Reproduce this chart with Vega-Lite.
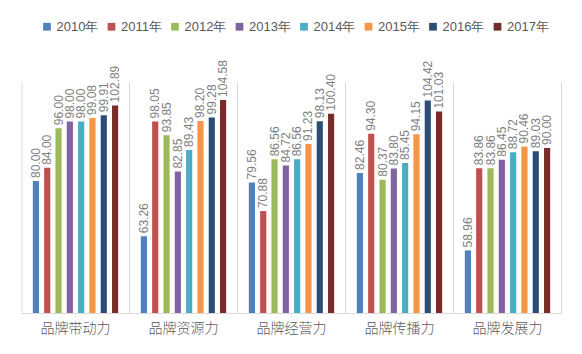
{
  "$schema": "https://vega.github.io/schema/vega-lite/v6.json",
  "autosize": "none",
  "width": 540,
  "height": 231,
  "padding": {"left": 21.5, "top": 82, "right": 20.5, "bottom": 41},
  "background": "white",
  "config": {
    "view": {"stroke": null},
    "font": "Liberation Sans"
  },
  "datasets": {
    "main": [
      {"cat": "品牌带动力", "year": "2010年", "value": 80.00},
      {"cat": "品牌带动力", "year": "2011年", "value": 84.00},
      {"cat": "品牌带动力", "year": "2012年", "value": 96.00},
      {"cat": "品牌带动力", "year": "2013年", "value": 98.00},
      {"cat": "品牌带动力", "year": "2014年", "value": 98.00},
      {"cat": "品牌带动力", "year": "2015年", "value": 99.08},
      {"cat": "品牌带动力", "year": "2016年", "value": 99.91},
      {"cat": "品牌带动力", "year": "2017年", "value": 102.89},
      {"cat": "品牌资源力", "year": "2010年", "value": 63.26},
      {"cat": "品牌资源力", "year": "2011年", "value": 98.05},
      {"cat": "品牌资源力", "year": "2012年", "value": 93.85},
      {"cat": "品牌资源力", "year": "2013年", "value": 82.85},
      {"cat": "品牌资源力", "year": "2014年", "value": 89.43},
      {"cat": "品牌资源力", "year": "2015年", "value": 98.20},
      {"cat": "品牌资源力", "year": "2016年", "value": 99.28},
      {"cat": "品牌资源力", "year": "2017年", "value": 104.58},
      {"cat": "品牌经营力", "year": "2010年", "value": 79.56},
      {"cat": "品牌经营力", "year": "2011年", "value": 70.88},
      {"cat": "品牌经营力", "year": "2012年", "value": 86.56},
      {"cat": "品牌经营力", "year": "2013年", "value": 84.72},
      {"cat": "品牌经营力", "year": "2014年", "value": 86.56},
      {"cat": "品牌经营力", "year": "2015年", "value": 91.23},
      {"cat": "品牌经营力", "year": "2016年", "value": 98.13},
      {"cat": "品牌经营力", "year": "2017年", "value": 100.40},
      {"cat": "品牌传播力", "year": "2010年", "value": 82.46},
      {"cat": "品牌传播力", "year": "2011年", "value": 94.30},
      {"cat": "品牌传播力", "year": "2012年", "value": 80.37},
      {"cat": "品牌传播力", "year": "2013年", "value": 83.80},
      {"cat": "品牌传播力", "year": "2014年", "value": 85.45},
      {"cat": "品牌传播力", "year": "2015年", "value": 94.15},
      {"cat": "品牌传播力", "year": "2016年", "value": 104.42},
      {"cat": "品牌传播力", "year": "2017年", "value": 101.03},
      {"cat": "品牌发展力", "year": "2010年", "value": 58.96},
      {"cat": "品牌发展力", "year": "2011年", "value": 83.86},
      {"cat": "品牌发展力", "year": "2012年", "value": 83.86},
      {"cat": "品牌发展力", "year": "2013年", "value": 86.45},
      {"cat": "品牌发展力", "year": "2014年", "value": 88.72},
      {"cat": "品牌发展力", "year": "2015年", "value": 90.46},
      {"cat": "品牌发展力", "year": "2016年", "value": 89.03},
      {"cat": "品牌发展力", "year": "2017年", "value": 90.00}
    ],
    "cats": [
      {"cat": "品牌带动力"},
      {"cat": "品牌资源力"},
      {"cat": "品牌经营力"},
      {"cat": "品牌传播力"},
      {"cat": "品牌发展力"}
    ]
  },
  "encoding": {
    "x": {
      "field": "cat",
      "type": "nominal",
      "sort": null,
      "scale": {"paddingInner": 0, "paddingOuter": 0},
      "axis": {
        "title": null,
        "labelAngle": 0,
        "ticks": false,
        "domainColor": "#d9d9d9",
        "labelFont": "Noto Sans CJK SC",
        "labelFontSize": 14,
        "labelFontWeight": 300,
        "labelColor": "#595959",
        "labelPadding": 8
      }
    }
  },
  "layer": [
    {
      "data": {"name": "cats"},
      "mark": {"type": "rule", "stroke": "#d9d9d9", "strokeWidth": 1},
      "encoding": {
        "x": {"field": "cat", "type": "nominal", "sort": null, "bandPosition": 1}
      }
    },
    {
      "data": {"name": "main"},
      "layer": [
        {
          "mark": {"type": "bar"},
          "encoding": {
            "xOffset": {
              "field": "year",
              "type": "nominal",
              "scale": {"paddingInner": 0.455, "paddingOuter": 1.14}
            },
            "y": {
              "field": "value",
              "type": "quantitative",
              "scale": {"domain": [40, 110], "zero": false, "nice": false},
              "axis": {"title": null, "labels": false, "ticks": false, "grid": false, "domainColor": "#d9d9d9"}
            },
            "y2": {"datum": 40},
            "color": {
              "field": "year",
              "type": "nominal",
              "scale": {
                "domain": ["2010年", "2011年", "2012年", "2013年", "2014年", "2015年", "2016年", "2017年"],
                "range": ["#4F81BD", "#C0504D", "#9BBB59", "#8064A2", "#4BACC6", "#F79646", "#2C4D75", "#772C2A"]
              },
              "legend": {
                "title": null,
                "orient": "none",
                "direction": "horizontal",
                "legendX": 19,
                "legendY": -62,
                "symbolType": "square",
                "symbolSize": 60,
                "symbolStrokeWidth": 0,
                "labelFont": "Liberation Sans",
                "labelFontSize": 13,
                "labelColor": "#595959",
                "columnPadding": 6.5,
                "labelOffset": 3
              }
            }
          }
        },
        {
          "mark": {
            "type": "text",
            "angle": 270,
            "align": "left",
            "baseline": "middle",
            "dx": 3,
            "fontSize": 12,
            "color": "#7f7f7f"
          },
          "encoding": {
            "xOffset": {
              "field": "year",
              "type": "nominal",
              "scale": {"paddingInner": 0.455, "paddingOuter": 1.14}
            },
            "y": {"field": "value", "type": "quantitative"},
            "text": {"field": "value", "type": "quantitative", "format": ".2f"}
          }
        }
      ]
    }
  ]
}
